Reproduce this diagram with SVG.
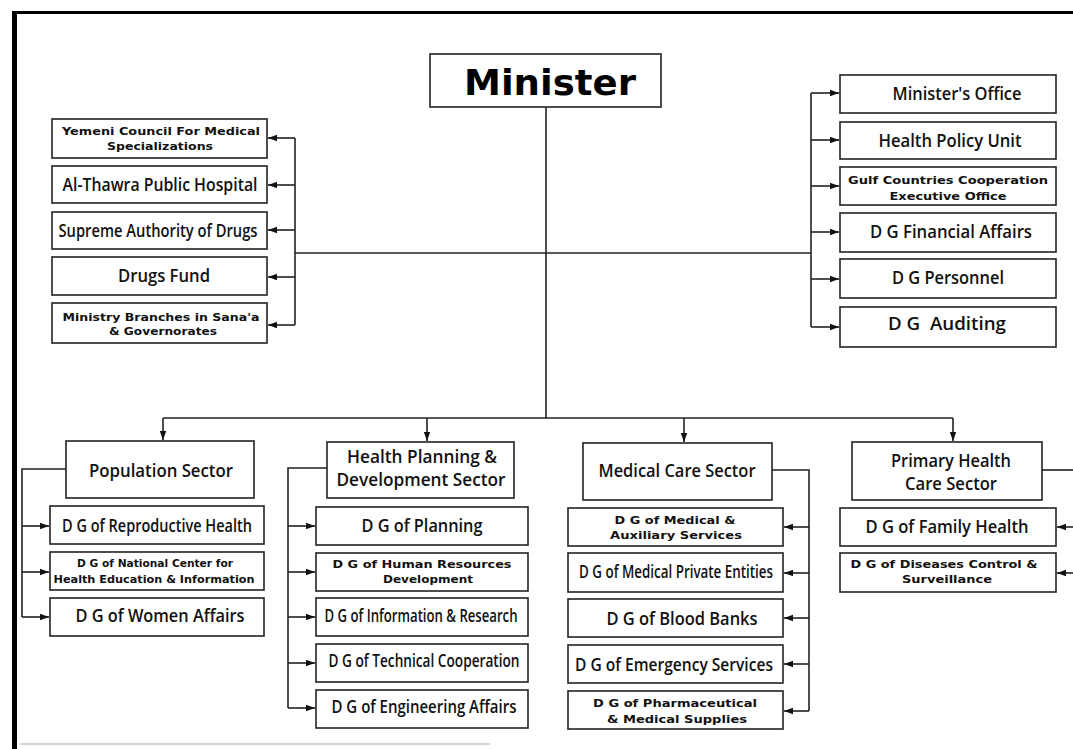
<svg xmlns="http://www.w3.org/2000/svg" width="1073" height="749" viewBox="0 0 1073 749">
<defs>
<style>
.box{fill:#fff;stroke:#222;stroke-width:1.6}
.t{font-family:"Open Sans","Liberation Sans",sans-serif;font-weight:600;font-size:17.5px;fill:#111;text-anchor:middle}
.s{font-family:"DejaVu Sans","Liberation Sans",sans-serif;font-weight:bold;font-size:10.5px;fill:#111;text-anchor:middle}
.big{font-family:"DejaVu Sans","Liberation Sans",sans-serif;font-weight:bold;font-size:36px;fill:#000;text-anchor:middle}
.c{fill:none;stroke:#222;stroke-width:1.6}
.a{fill:none;stroke:#222;stroke-width:1.6;marker-end:url(#arr)}
</style>
<marker id="arr" markerUnits="userSpaceOnUse" markerWidth="10" markerHeight="8" refX="9" refY="4" orient="auto">
<path d="M0,0.8 L9,4 L0,7.2 Z" fill="#111"/>
</marker>
</defs>
<rect width="1073" height="749" fill="#fff"/>
<rect x="12" y="11" width="1061" height="3" fill="#000"/>
<rect x="12" y="11" width="5" height="738" fill="#000"/>
<line x1="20" y1="744" x2="490" y2="744" stroke="#d4d4d4" stroke-width="2"/>

<g id="connectors">
<path class="c" d="M546 107 V418"/>
<path class="c" d="M295 253 H811"/>
<path class="c" d="M295 138 V325"/>
<path class="a" d="M295 138 H268"/>
<path class="a" d="M295 185 H268"/>
<path class="a" d="M295 230 H268"/>
<path class="a" d="M295 277 H268"/>
<path class="a" d="M295 325 H268"/>
<path class="c" d="M811 93 V327"/>
<path class="a" d="M811 93 H839"/>
<path class="a" d="M811 140 H839"/>
<path class="a" d="M811 186 H839"/>
<path class="a" d="M811 232 H839"/>
<path class="a" d="M811 279 H839"/>
<path class="a" d="M811 327 H839"/>
<path class="c" d="M163 418 H953"/>
<path class="a" d="M163 418 V440"/>
<path class="a" d="M427 418 V441"/>
<path class="a" d="M684 418 V442"/>
<path class="a" d="M953 418 V441"/>
<path class="c" d="M66 469 H22 V617"/>
<path class="a" d="M22 526 H49"/>
<path class="a" d="M22 572 H49"/>
<path class="a" d="M22 617 H49"/>
<path class="c" d="M327 468 H288 V708"/>
<path class="a" d="M288 526 H315"/>
<path class="a" d="M288 572 H315"/>
<path class="a" d="M288 617 H315"/>
<path class="a" d="M288 663 H315"/>
<path class="a" d="M288 708 H315"/>
<path class="c" d="M772 470 H809 V711"/>
<path class="a" d="M809 527 H784"/>
<path class="a" d="M809 573 H784"/>
<path class="a" d="M809 618 H784"/>
<path class="a" d="M809 664 H784"/>
<path class="a" d="M809 711 H784"/>
<path class="c" d="M1042 470 H1073"/>
<path class="a" d="M1073 527 H1057"/>
<path class="a" d="M1073 573 H1057"/>
</g>

<g id="minister"><rect class="box" x="430" y="54" width="231" height="53"/><text class="big" x="550" y="95" textLength="172" lengthAdjust="spacingAndGlyphs">Minister</text></g>

<g id="yemeni-council"><rect class="box" x="52" y="119" width="215" height="39"/><text class="s" x="161" y="135" textLength="198" lengthAdjust="spacingAndGlyphs">Yemeni Council For Medical</text><text class="s" x="160" y="150" textLength="106" lengthAdjust="spacingAndGlyphs">Specializations</text></g>
<g id="al-thawra"><rect class="box" x="52" y="166" width="215" height="37"/><text class="t" x="160" y="191" textLength="195" lengthAdjust="spacingAndGlyphs">Al-Thawra Public Hospital</text></g>
<g id="supreme-authority"><rect class="box" x="52" y="212" width="215" height="37"/><text class="t" x="158" y="237" textLength="199" lengthAdjust="spacingAndGlyphs">Supreme Authority of Drugs</text></g>
<g id="drugs-fund"><rect class="box" x="52" y="257" width="215" height="38"/><text class="t" x="164" y="282" textLength="92" lengthAdjust="spacingAndGlyphs">Drugs Fund</text></g>
<g id="ministry-branches"><rect class="box" x="52" y="303" width="215" height="40"/><text class="s" x="161" y="321" textLength="197" lengthAdjust="spacingAndGlyphs">Ministry Branches in Sana'a</text><text class="s" x="163" y="335" textLength="108" lengthAdjust="spacingAndGlyphs">&amp; Governorates</text></g>

<g id="ministers-office"><rect class="box" x="840" y="75" width="216" height="38"/><text class="t" x="957" y="100" textLength="129" lengthAdjust="spacingAndGlyphs">Minister's Office</text></g>
<g id="health-policy"><rect class="box" x="840" y="122" width="216" height="37"/><text class="t" x="950" y="147" textLength="143" lengthAdjust="spacingAndGlyphs">Health Policy Unit</text></g>
<g id="gulf-countries"><rect class="box" x="840" y="167" width="216" height="38"/><text class="s" x="948" y="184" textLength="200" lengthAdjust="spacingAndGlyphs">Gulf Countries Cooperation</text><text class="s" x="948" y="200" textLength="117" lengthAdjust="spacingAndGlyphs">Executive Office</text></g>
<g id="dg-financial"><rect class="box" x="840" y="213" width="216" height="39"/><text class="t" x="951" y="238" textLength="162" lengthAdjust="spacingAndGlyphs">D G Financial Affairs</text></g>
<g id="dg-personnel"><rect class="box" x="840" y="259" width="216" height="39"/><text class="t" x="948" y="284" textLength="112" lengthAdjust="spacingAndGlyphs">D G Personnel</text></g>
<g id="dg-auditing"><rect class="box" x="840" y="307" width="216" height="40"/><text class="t" x="947" y="330" textLength="118" lengthAdjust="spacingAndGlyphs" xml:space="preserve">D G  Auditing</text></g>

<g id="population-sector"><rect class="box" x="66" y="441" width="188" height="57"/><text class="t" x="161" y="477" textLength="144" lengthAdjust="spacingAndGlyphs">Population Sector</text></g>
<g id="dg-reproductive"><rect class="box" x="50" y="506" width="214" height="38"/><text class="t" x="157" y="532" textLength="190" lengthAdjust="spacingAndGlyphs">D G of Reproductive Health</text></g>
<g id="dg-national-center"><rect class="box" x="50" y="552" width="214" height="38"/><text class="s" x="155" y="567" textLength="156" lengthAdjust="spacingAndGlyphs">D G of National Center for</text><text class="s" x="154" y="583" textLength="201" lengthAdjust="spacingAndGlyphs">Health Education &amp; Information</text></g>
<g id="dg-women"><rect class="box" x="50" y="598" width="214" height="38"/><text class="t" x="160" y="622" textLength="169" lengthAdjust="spacingAndGlyphs">D G of Women Affairs</text></g>

<g id="health-planning-sector"><rect class="box" x="327" y="442" width="187" height="56"/><text class="t" x="422" y="463" textLength="150" lengthAdjust="spacingAndGlyphs">Health Planning &amp;</text><text class="t" x="421" y="486" textLength="169" lengthAdjust="spacingAndGlyphs">Development Sector</text></g>
<g id="dg-planning"><rect class="box" x="316" y="507" width="212" height="38"/><text class="t" x="422" y="532" textLength="121" lengthAdjust="spacingAndGlyphs">D G of Planning</text></g>
<g id="dg-human-resources"><rect class="box" x="316" y="553" width="212" height="38"/><text class="s" x="422" y="568" textLength="179" lengthAdjust="spacingAndGlyphs">D G of Human Resources</text><text class="s" x="428" y="583" textLength="90" lengthAdjust="spacingAndGlyphs">Development</text></g>
<g id="dg-information"><rect class="box" x="316" y="598" width="212" height="38"/><text class="t" x="421" y="622" textLength="193" lengthAdjust="spacingAndGlyphs">D G of Information &amp; Research</text></g>
<g id="dg-technical"><rect class="box" x="316" y="644" width="212" height="38"/><text class="t" x="424" y="667" textLength="191" lengthAdjust="spacingAndGlyphs">D G of Technical Cooperation</text></g>
<g id="dg-engineering"><rect class="box" x="316" y="690" width="212" height="38"/><text class="t" x="424" y="713" textLength="185" lengthAdjust="spacingAndGlyphs">D G of Engineering Affairs</text></g>

<g id="medical-care-sector"><rect class="box" x="583" y="443" width="189" height="57"/><text class="t" x="677" y="477" textLength="157" lengthAdjust="spacingAndGlyphs">Medical Care Sector</text></g>
<g id="dg-medical-aux"><rect class="box" x="568" y="508" width="215" height="38"/><text class="s" x="675" y="524" textLength="121" lengthAdjust="spacingAndGlyphs">D G of Medical &amp;</text><text class="s" x="676" y="539" textLength="132" lengthAdjust="spacingAndGlyphs">Auxiliary Services</text></g>
<g id="dg-private"><rect class="box" x="568" y="553" width="215" height="39"/><text class="t" x="676" y="578" textLength="194" lengthAdjust="spacingAndGlyphs">D G of Medical Private Entities</text></g>
<g id="dg-blood"><rect class="box" x="568" y="599" width="215" height="38"/><text class="t" x="682" y="625" textLength="151" lengthAdjust="spacingAndGlyphs">D G of Blood Banks</text></g>
<g id="dg-emergency"><rect class="box" x="568" y="645" width="215" height="38"/><text class="t" x="674" y="671" textLength="198" lengthAdjust="spacingAndGlyphs">D G of Emergency Services</text></g>
<g id="dg-pharma"><rect class="box" x="568" y="691" width="215" height="38"/><text class="s" x="675" y="707" textLength="164" lengthAdjust="spacingAndGlyphs">D G of Pharmaceutical</text><text class="s" x="677" y="723" textLength="140" lengthAdjust="spacingAndGlyphs">&amp; Medical Supplies</text></g>

<g id="primary-health-sector"><rect class="box" x="852" y="442" width="190" height="58"/><text class="t" x="951" y="467" textLength="120" lengthAdjust="spacingAndGlyphs">Primary Health</text><text class="t" x="951" y="490" textLength="92" lengthAdjust="spacingAndGlyphs">Care Sector</text></g>
<g id="dg-family"><rect class="box" x="840" y="508" width="216" height="38"/><text class="t" x="947" y="533" textLength="163" lengthAdjust="spacingAndGlyphs">D G of Family Health</text></g>
<g id="dg-diseases"><rect class="box" x="840" y="553" width="216" height="39"/><text class="s" x="944" y="568" textLength="187" lengthAdjust="spacingAndGlyphs">D G of Diseases Control &amp;</text><text class="s" x="947" y="583" textLength="90" lengthAdjust="spacingAndGlyphs">Surveillance</text></g>
</svg>
